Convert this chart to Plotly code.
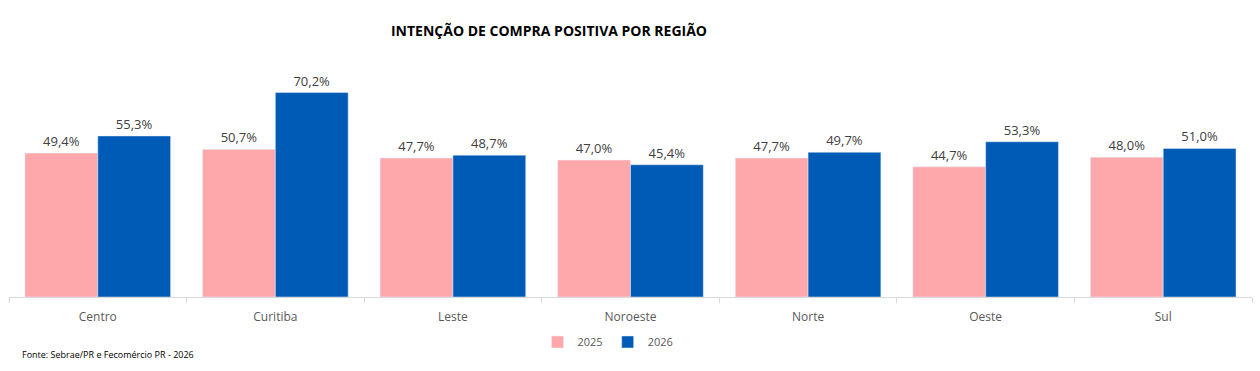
import plotly.graph_objects as go

regioes = ["Centro", "Curitiba", "Leste", "Noroeste", "Norte", "Oeste", "Sul"]
v2025 = [49.4, 50.7, 47.7, 47.0, 47.7, 44.7, 48.0]
v2026 = [55.3, 70.2, 48.7, 45.4, 49.7, 53.3, 51.0]

FONT = "Open Sans"
fig = go.Figure()
fig.add_trace(go.Bar(name="2025", x=regioes, y=v2025, marker_color="#FFA8AC",
                     texttemplate="%{y:.1f}%", textposition="outside",
                     textfont=dict(size=13, color="#404040", family=FONT), cliponaxis=False))
fig.add_trace(go.Bar(name="2026", x=regioes, y=v2026, marker_color="#005BB7",
                     texttemplate="%{y:.1f}%", textposition="outside",
                     textfont=dict(size=13, color="#404040", family=FONT), cliponaxis=False))

fig.update_layout(
    width=1260, height=371,
    margin=dict(l=9, r=8, t=64, b=74),
    paper_bgcolor="white", plot_bgcolor="white",
    separators=",.",
    barmode="group", bargap=0.18, bargroupgap=0,
    font=dict(family=FONT, color="#595959"),
    title=dict(text="<b>INTENÇÃO DE COMPRA POSITIVA POR REGIÃO</b>",
               font=dict(size=14, color="#000000", family=FONT),
               xref="container", x=549/1260, xanchor="center",
               yref="container", y=1-31/371, yanchor="middle"),
    legend=dict(orientation="h", xref="container", x=608/1260, xanchor="center",
                yref="container", y=1-342/371, yanchor="middle",
                font=dict(size=11, color="#595959"), itemwidth=30, traceorder="normal"),
    xaxis=dict(showline=True, linecolor="#D9D9D9", linewidth=1, ticks="outside",
               tickson="boundaries", ticklen=5, tickcolor="#D9D9D9",
               ticklabelstandoff=9, automargin=False,
               tickfont=dict(size=12, color="#595959"), showgrid=False),
    yaxis=dict(range=[0, 80], visible=False, showgrid=False, zeroline=False, automargin=False),
    annotations=[dict(text="Fonte: Sebrae/PR e Fecomércio PR - 2026", xref="paper", yref="paper",
                      x=(20-9)/1243, y=(297-354)/233, xanchor="left", yanchor="middle",
                      showarrow=False, font=dict(size=9, color="#000000", family=FONT))],
)
fig.write_html("out.html")
